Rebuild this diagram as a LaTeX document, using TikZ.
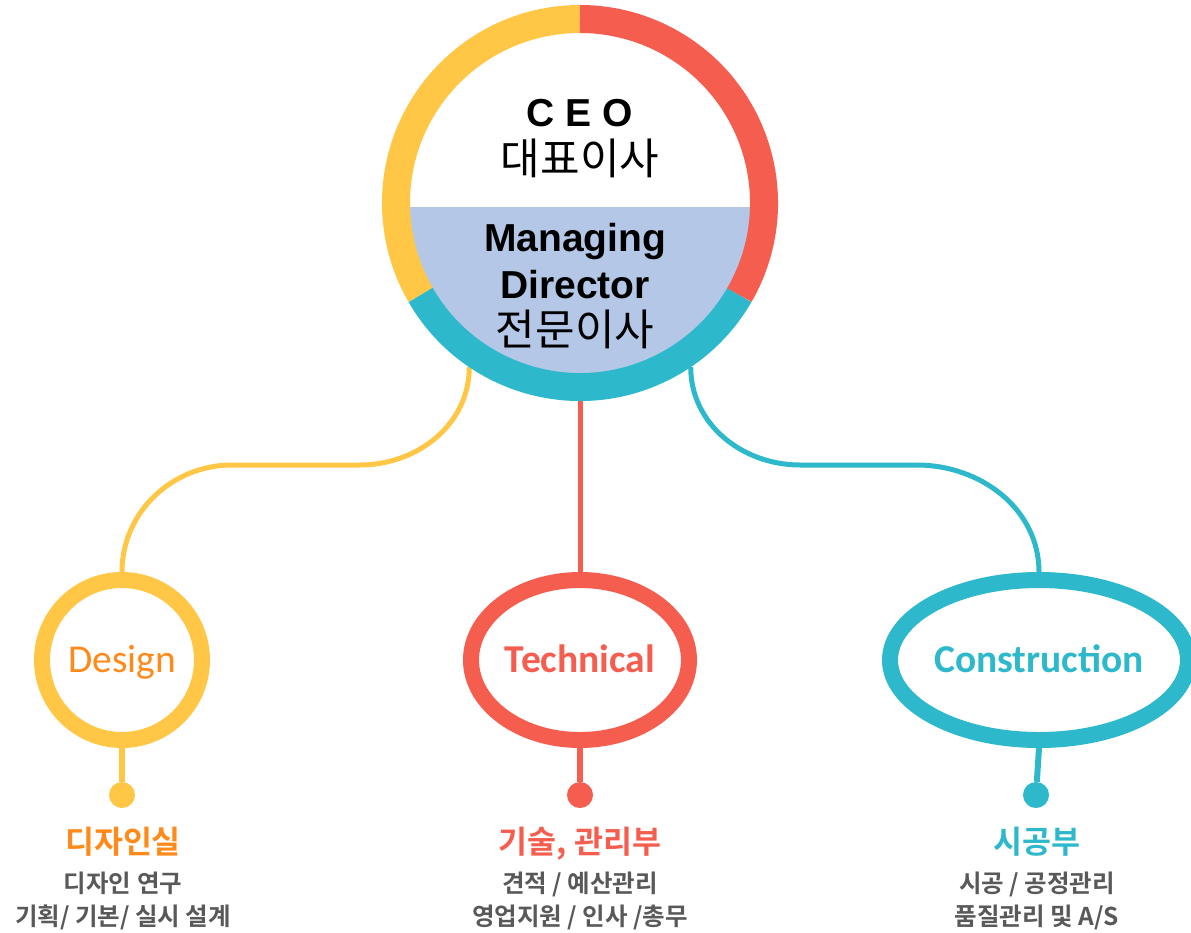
\documentclass[tikz,border=0pt]{standalone}
\usepackage{fontspec}
\setmainfont{Liberation Sans}
\newfontfamily\kr{Noto Sans CJK KR}[BoldFont={Noto Sans CJK KR Bold}]
\newfontfamily\calfont{Carlito}
\usetikzlibrary{shapes.geometric,positioning}

\definecolor{yel}{HTML}{FFC745}
\definecolor{rd}{HTML}{F55E4F}
\definecolor{tl}{HTML}{2EB8CB}
\definecolor{lb}{HTML}{B4C7E7}
\definecolor{org}{HTML}{FF8A1A}
\definecolor{gr}{HTML}{595959}

\begin{document}
\begin{tikzpicture}[x=1pt,y=1pt,
    ring/.style={line width=16pt},
    link/.style={line width=5pt},
    dot/.style={circle,inner sep=0pt,minimum size=26pt},
    big/.style={anchor=base,font=\bfseries\fontsize{39}{44}\selectfont},
    bigkr/.style={anchor=base,font=\kr\fontsize{43}{48}\selectfont},
    head/.style={anchor=base,font=\kr\bfseries\fontsize{31.5}{36}\selectfont},
    sub/.style={anchor=base,text=gr,font=\kr\bfseries\fontsize{24.5}{28}\selectfont}]

  \useasboundingbox (0,0) rectangle (1191,-932);

  \def\r{184};
  \def\ri{170};

  %top circle
  \node[circle,minimum size=396pt,inner sep=0pt,outer sep=0pt] (ceo) at (580,-203) {};

  %links
  \coordinate (ya) at (360,-465);
  \coordinate (yb) at (232,-465);
  \coordinate (ta) at (800,-465);
  \coordinate (tb) at (917,-465);

  \foreach \nm/\x/\w/\col/\tc/\lbl in {des/122/160/yel/org/{Design},
      tec/580/218/rd/rd/{\bfseries Technical},
      con/1039/298/tl/tl/{\bfseries Construction}}{
    \node[ellipse,draw=\col,ring,fill=white,inner sep=0pt,minimum width=\w pt,
          minimum height=160pt] (\nm) at (\x,-660) {};
    \node[anchor=base,text=\tc,font=\calfont\fontsize{39.5}{44}\selectfont] (\nm t) at (\x,-672) {\lbl};
  }

  \draw[yel,link] (ceo.236) to[out=-90,in=0] (ya) -- (yb) to[out=180,in=90] (des.north);
  \draw[rd,link] (ceo.south) -- (tec.north);
  \draw[tl,link] (ceo.304) to[out=-90,in=180] (ta) -- (tb) to[out=0,in=90] (con.north);

  %ring
  \fill[white] (ceo.center) circle (\ri);
  \begin{scope}
    \clip (ceo.center) circle (\ri+0.5);
    \fill[lb] (390,-207) rectangle (770,-380);
  \end{scope}
  \draw[yel,line width=28pt] (ceo.center) ++(90:\r) arc[start angle=90,end angle=210,radius=\r];
  \draw[tl,line width=28pt] (ceo.center) ++(210:\r) arc[start angle=210,end angle=330,radius=\r];
  \draw[rd,line width=28pt] (ceo.center) ++(330:\r) arc[start angle=330,end angle=450,radius=\r];

  \node[big] (c1) at (580,-126) {C E O};
  \node[bigkr] (c2) at (580,-174) {대표이사};
  \node[big] (m1) at (575,-251) {Managing};
  \node[big] (m2) at (575,-298) {Director};
  \node[bigkr] (m3) at (575,-345) {전문이사};

  %dots
  \node[dot,fill=yel] (ddot) at (122,-795) {};
  \node[dot,fill=rd] (tdot) at (580,-795) {};
  \node[dot,fill=tl] (cdot) at (1036,-795) {};
  \draw[yel,line width=6pt] (des.south) -- (ddot);
  \draw[rd,line width=6pt] (tec.south) -- (tdot);
  \draw[tl,line width=6pt] (con.south) -- (cdot);

  %texts
  \node[head,text=org] (dh) at (123,-853) {디자인실};
  \node[sub] (d1) at (123,-892) {디자인 연구};
  \node[sub] (d2) at (123,-925) {기획/ 기본/ 실시 설계};

  \node[head,text=rd] (th) at (580,-853) {기술, 관리부};
  \node[sub] (t1) at (580,-892) {견적 / 예산관리};
  \node[sub] (t2) at (580,-925) {영업지원 / 인사 /총무};

  \node[head,text=tl] (ch) at (1037,-853) {시공부};
  \node[sub] (s1) at (1037,-892) {시공 / 공정관리};
  \node[sub] (s2) at (1037,-925) {품질관리 및 A/S};

\end{tikzpicture}
\end{document}
